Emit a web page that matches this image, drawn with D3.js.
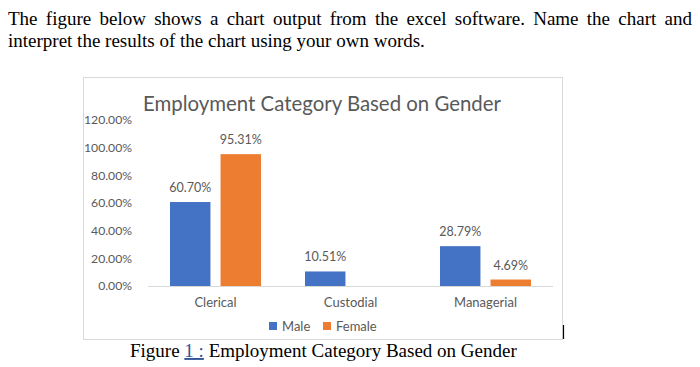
<!DOCTYPE html>
<html>
<head>
<meta charset="utf-8">
<script src="https://cdn.jsdelivr.net/npm/d3@7"></script>
<style>
  body { margin: 0; background: #fff; }
  svg { display: block; }
</style>
</head>
<body>
<svg id="chart" width="700" height="367"></svg>
<script>
// values
const categories = ['Clerical', 'Custodial', 'Managerial'];
const seriesNames = ['Male', 'Female'];
const maleValues = [60.70, 10.51, 28.79];
const femaleValues = [95.31, null, 4.69];   // no custodial female bar in the picture
const yTicks = [0, 20, 40, 60, 80, 100, 120];

const COLORS = { Male: '#4472C4', Female: '#ED7D31' };
const GREY = '#595959';
const SANS = 'Lato, "Open Sans", sans-serif';
const SERIF = '"Liberation Serif", "Times New Roman", serif';

const svg = d3.select('#chart');

// ---- question text (justified first line) ----
function justifyLine(str, x0, x1, y, size) {
  const words = str.split(' ');
  const g = svg.append('g').attr('font-family', SERIF).attr('font-size', size).attr('fill', '#000');
  const nodes = words.map(w => g.append('text').attr('y', y).text(w));
  const widths = nodes.map(n => n.node().getComputedTextLength());
  const total = d3.sum(widths);
  const gap = (x1 - x0 - total) / (words.length - 1);
  let x = x0;
  nodes.forEach((n, i) => { n.attr('x', x); x += widths[i] + gap; });
}
justifyLine('The figure below shows a chart output from the excel software. Name the chart and', 8, 692, 25, 19);
svg.append('text')
  .attr('x', 8).attr('y', 47)
  .attr('font-family', SERIF).attr('font-size', 19)
  .text('interpret the results of the chart using your own words.');

// ---- chart frame ----
svg.append('rect')
  .attr('x', 83.5).attr('y', 77.5)
  .attr('width', 479).attr('height', 262)
  .attr('fill', '#fff').attr('stroke', '#d9d9d9');

const plot = { left: 148, right: 553, top: 120, bottom: 286 };

const x0 = d3.scaleBand().domain(categories).range([plot.left, plot.right]).padding(0);
const x1 = d3.scaleBand().domain(seriesNames)
  .range([x0.bandwidth() * 0.163, x0.bandwidth() * 0.837]).paddingInner(0.2);
const y = d3.scaleLinear().domain([0, 120]).range([plot.bottom, plot.top]);

const fmt = v => v.toFixed(2) + '%';

// title
svg.append('text')
  .attr('x', 322).attr('y', 111)
  .attr('text-anchor', 'middle')
  .attr('font-family', SANS).attr('font-size', 20.4)
  .attr('fill', GREY)
  .text('Employment Category Based on Gender');

// y axis labels (no axis line, no gridlines)
const yAxis = svg.append('g')
  .attr('transform', `translate(${plot.left - 13},0)`)
  .call(d3.axisLeft(y).tickValues(yTicks).tickSize(0).tickFormat(d => d.toFixed(2) + '%'));
yAxis.select('.domain').remove();
yAxis.selectAll('text')
  .attr('font-family', SANS).attr('font-size', 12.2).attr('fill', GREY);

// category axis
const xAxis = svg.append('g')
  .attr('transform', `translate(0,${plot.bottom})`)
  .call(d3.axisBottom(x0).tickSize(0).tickPadding(12));
xAxis.select('.domain').attr('stroke', '#d9d9d9').attr('d', `M${plot.left},0.5H${plot.right}`);
xAxis.selectAll('text')
  .attr('font-family', SANS).attr('font-size', 13).attr('fill', GREY);

// bars
const rows = categories.map((c, i) => ({
  category: c,
  values: [
    { series: 'Male', value: maleValues[i] },
    { series: 'Female', value: femaleValues[i] }
  ].filter(d => d.value != null)
}));

const groups = svg.append('g').selectAll('g')
  .data(rows)
  .join('g')
  .attr('transform', d => `translate(${x0(d.category)},0)`);

groups.selectAll('rect')
  .data(d => d.values)
  .join('rect')
  .attr('x', d => x1(d.series))
  .attr('width', x1.bandwidth())
  .attr('y', d => y(d.value))
  .attr('height', d => y(0) - y(d.value))
  .attr('fill', d => COLORS[d.series]);

groups.selectAll('text.lbl')
  .data(d => d.values)
  .join('text')
  .attr('class', 'lbl')
  .attr('x', d => x1(d.series) + x1.bandwidth() / 2)
  .attr('y', d => y(d.value) - 10)
  .attr('text-anchor', 'middle')
  .attr('font-family', SANS).attr('font-size', 12.5)
  .attr('fill', GREY)
  .text(d => fmt(d.value));

// legend
const legend = svg.append('g').attr('font-family', SANS).attr('font-size', 13).attr('fill', GREY);
const legendX = [269, 323];
seriesNames.forEach((s, i) => {
  legend.append('rect')
    .attr('x', legendX[i]).attr('y', 322)
    .attr('width', 8).attr('height', 8)
    .attr('fill', COLORS[s]);
  legend.append('text')
    .attr('x', legendX[i] + 13).attr('y', 330.5)
    .text(s);
});

// text cursor left in the document
svg.append('line')
  .attr('x1', 563.5).attr('x2', 563.5)
  .attr('y1', 325).attr('y2', 339)
  .attr('stroke', '#000').attr('stroke-width', 1.2);

// caption
const cap = svg.append('text')
  .attr('x', 130).attr('y', 357)
  .attr('font-family', SERIF).attr('font-size', 19)
  .attr('fill', '#000');
cap.append('tspan').text('Figure ');
cap.append('tspan').attr('fill', '#2F5496').attr('text-decoration', 'underline').text('1 :');
cap.append('tspan').text(' Employment Category Based on Gender');
</script>
</body>
</html>
